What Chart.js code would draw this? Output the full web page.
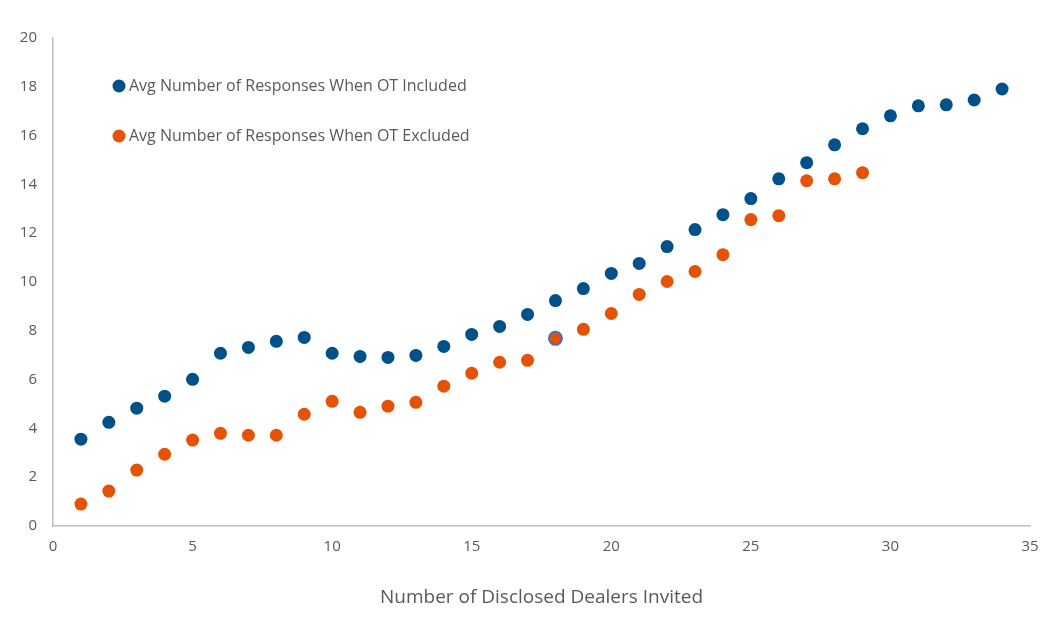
<!DOCTYPE html>
<html>
<head>
<meta charset="utf-8">
<script src="https://cdn.jsdelivr.net/npm/chart.js@4"></script>
<style>
  html, body { margin: 0; padding: 0; background: #fff; }
  #wrap { width: 1064px; height: 625px; }
</style>
</head>
<body>
<div id="wrap"><canvas id="chart" width="1064" height="625"></canvas></div>
<script>
const dealersIncluded = [1, 2, 3, 4, 5, 6, 7, 8, 9, 10, 11, 12, 13, 14, 15, 16, 17, 18, 19, 20, 21, 22, 23, 24, 25, 26, 27, 28, 29, 30, 31, 32, 33, 34];
const respIncluded = [3.56, 4.25, 4.83, 5.32, 6.01, 7.08, 7.32, 7.57, 7.73, 7.08, 6.95, 6.91, 6.99, 7.36, 7.85, 8.18, 8.67, 9.24, 9.73, 10.35, 10.76, 11.45, 12.15, 12.76, 13.42, 14.23, 14.89, 15.62, 16.28, 16.81, 17.22, 17.26, 17.46, 17.91];

const dealersExcluded = [1, 2, 3, 4, 5, 6, 7, 8, 9, 10, 11, 12, 13, 14, 15, 16, 17, 18, 19, 20, 21, 22, 23, 24, 25, 26, 27, 28, 29];
const respExcluded = [0.90, 1.43, 2.29, 2.94, 3.52, 3.80, 3.72, 3.72, 4.58, 5.11, 4.66, 4.91, 5.07, 5.73, 6.26, 6.71, 6.79, 7.69, 8.06, 8.71, 9.49, 10.02, 10.43, 11.12, 12.56, 12.72, 14.15, 14.23, 14.48];

const seriesLabels = ['Avg Number of Responses When OT Included', 'Avg Number of Responses When OT Excluded'];
const xTitle = 'Number of Disclosed Dealers Invited';

const blue = '#00508a';
const orange = '#e35205';
const textGray = '#595959';
const fontFamily = '"Open Sans", "DejaVu Sans", sans-serif';

function toPoints(xs, ys) {
    return xs.map((x, i) => ({ x: x, y: ys[i] }));
}

// legend drawn inside the plot area, top-left
const insideLegend = {
    id: 'insideLegend',
    afterDraw(chart) {
        const ctx = chart.ctx;
        const rows = [86, 136];
        ctx.save();
        ctx.font = '16px ' + fontFamily;
        ctx.textBaseline = 'middle';
        chart.data.datasets.forEach((ds, i) => {
            ctx.fillStyle = ds.backgroundColor;
            ctx.beginPath();
            ctx.arc(119, rows[i], 6.5, 0, Math.PI * 2);
            ctx.fill();
            ctx.fillStyle = textGray;
            ctx.fillText(ds.label, 129, rows[i]);
        });
        ctx.restore();
    }
};

const ctx = document.getElementById('chart').getContext('2d');
const chart = new Chart(ctx, {
    type: 'scatter',
    data: {
        datasets: [
            {
                label: seriesLabels[0],
                data: toPoints(dealersIncluded, respIncluded),
                backgroundColor: blue,
                borderColor: blue,
                pointRadius: 6.5,
                pointBorderWidth: 0
            },
            {
                label: seriesLabels[1],
                data: toPoints(dealersExcluded, respExcluded),
                backgroundColor: orange,
                borderColor: (c) => c.dataIndex === 17 ? '#4a6fb5' : orange,
                pointRadius: 6.5,
                pointBorderWidth: (c) => c.dataIndex === 17 ? 2 : 0
            }
        ]
    },
    options: {
        responsive: false,
        animation: false,
        layout: { padding: { top: 38, right: 34, left: 0, bottom: 0 } },
        plugins: {
            legend: { display: false },
            tooltip: { enabled: false }
        },
        scales: {
            x: {
                type: 'linear',
                min: 0,
                max: 35,
                grid: { display: false, drawTicks: false },
                border: { display: true, color: '#bfbfbf', width: 1.5 },
                ticks: {
                    stepSize: 5,
                    color: textGray,
                    font: { family: fontFamily, size: 15 },
                    padding: 12
                },
                title: {
                    display: true,
                    text: xTitle,
                    color: textGray,
                    font: { family: fontFamily, size: 19 },
                    padding: { top: 30, bottom: 16 }
                },
                afterFit(scale) { scale.height = 99; }
            },
            y: {
                min: 0,
                max: 20,
                grid: { display: false, drawTicks: false },
                border: { display: true, color: '#bfbfbf', width: 1.5 },
                ticks: {
                    stepSize: 2,
                    color: textGray,
                    font: { family: fontFamily, size: 15 },
                    padding: 16
                },
                afterFit(scale) { scale.width = 53; }
            }
        }
    },
    plugins: [insideLegend]
});
</script>
</body>
</html>
